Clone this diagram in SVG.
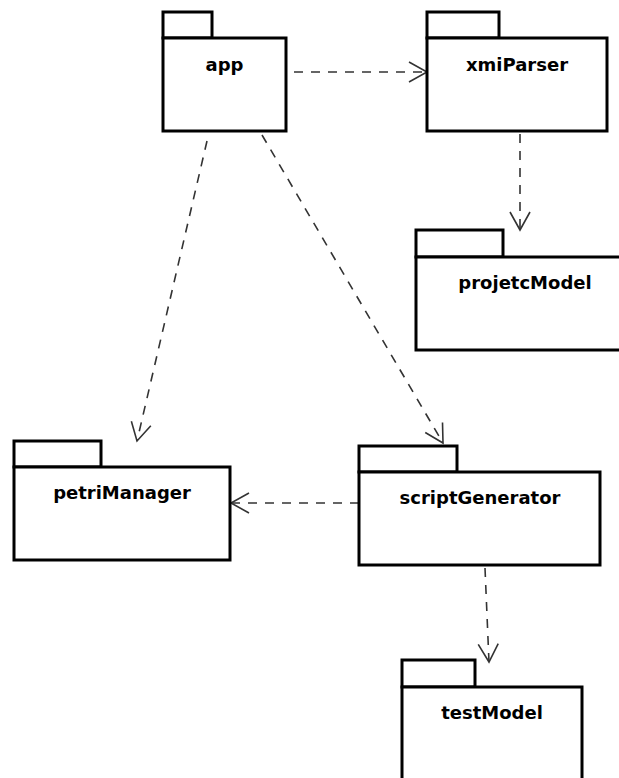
<svg xmlns="http://www.w3.org/2000/svg" width="619" height="778" viewBox="0 0 619 778">
  <style>
    .pkg { fill: #ffffff; stroke: #000000; stroke-width: 3; }
    .label { font-family: "DejaVu Sans", "Liberation Sans", sans-serif; font-weight: bold; font-size: 18px; fill: #000000; text-anchor: middle; }
    .dep { fill: none; stroke: #333333; stroke-width: 1.6; stroke-dasharray: 9 8; marker-end: url(#open); }
  </style>
  <defs>
    <!-- open "V" arrowhead for dependency lines -->
    <marker id="open" markerUnits="userSpaceOnUse" markerWidth="24" markerHeight="24" viewBox="-20 -12 22 24" refX="0" refY="0" orient="auto" overflow="visible">
      <path d="M -18,-10 L 0,0 L -18,10" fill="none" stroke="#333333" stroke-width="1.6"/>
    </marker>
  </defs>
  <rect width="619" height="778" fill="#ffffff"/>

  <g id="connectors">
    <line class="dep" x1="294" y1="72" x2="427" y2="72"/>
    <line class="dep" x1="520" y1="134" x2="520" y2="230"/>
    <line class="dep" x1="207" y1="141" x2="137" y2="441"/>
    <line class="dep" x1="262" y1="135" x2="443" y2="443"/>
    <line class="dep" x1="359" y1="503" x2="231" y2="503"/>
    <line class="dep" x1="485" y1="568" x2="489" y2="662"/>
  </g>

  <g id="app">
    <rect class="pkg" x="163" y="12" width="49" height="26"/>
    <rect class="pkg" x="163" y="38" width="123" height="93"/>
    <text class="label" x="224.5" y="71">app</text>
  </g>

  <g id="xmiParser">
    <rect class="pkg" x="427" y="12" width="72" height="26"/>
    <rect class="pkg" x="427" y="38" width="180" height="93"/>
    <text class="label" x="517" y="71">xmiParser</text>
  </g>

  <g id="projetcModel">
    <rect class="pkg" x="416" y="230" width="87" height="27"/>
    <rect class="pkg" x="416" y="257" width="218" height="93"/>
    <text class="label" x="525" y="289">projetcModel</text>
  </g>

  <g id="petriManager">
    <rect class="pkg" x="14" y="441" width="87" height="26"/>
    <rect class="pkg" x="14" y="467" width="216" height="93"/>
    <text class="label" x="122" y="499">petriManager</text>
  </g>

  <g id="scriptGenerator">
    <rect class="pkg" x="359" y="446" width="98" height="26"/>
    <rect class="pkg" x="359" y="472" width="241" height="93"/>
    <text class="label" x="480" y="504">scriptGenerator</text>
  </g>

  <g id="testModel">
    <rect class="pkg" x="402" y="660" width="73" height="27"/>
    <rect class="pkg" x="402" y="687" width="180" height="93"/>
    <text class="label" x="492" y="719">testModel</text>
  </g>
</svg>
